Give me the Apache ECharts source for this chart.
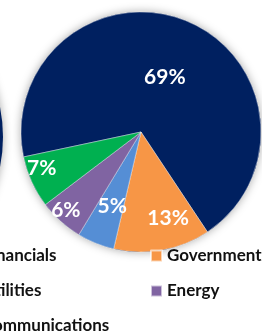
<!DOCTYPE html>
<html>
<head>
<meta charset="utf-8">
<script src="https://cdn.jsdelivr.net/npm/echarts@6/dist/echarts.min.js"></script>
<style>
    html, body { margin: 0; padding: 0; background: #fff; }
    #main { width: 262px; height: 331px; }
</style>
</head>
<body>
<div id="main"></div>
<script>
    var sectors = ['Financials', 'Government', 'Utilities', 'Energy', 'Communications'];
    var shares = [69, 13, 5, 6, 7];
    var colors = ['#002060', '#F79646', '#558ED5', '#8064A2', '#00B050'];
    // the neighbouring chart on the left, only its edge is in view
    var neighbourShares = [100];

    // best-fit label nudges, like the original
    var labelOffsets = [[0, 4], [16, 24], [-5, 16], [-33, 31], [-42, 10]];

    var dom = document.getElementById('main');
    var myChart = echarts.init(dom);

    var total = shares.reduce(function (a, b) { return a + b; }, 0);
    var pieData = sectors.map(function (name, i) {
        return {
            name: name,
            value: shares[i],
            itemStyle: { color: colors[i] },
            label: { offset: labelOffsets[i] }
        };
    });

    var font = 'Lato, "Open Sans", sans-serif';
    var legendText = { fontFamily: font, fontWeight: 'bold', fontSize: 17, color: '#111', lineHeight: 20 };

    var option = {
        animation: false,
        legend: [
            {
                data: [sectors[0], sectors[2], sectors[4]],
                orient: 'vertical',
                left: -35,
                top: 246,
                height: 140,
                padding: 0,
                itemWidth: 11,
                itemHeight: 11,
                itemGap: 15,
                icon: 'rect',
                textStyle: legendText
            },
            {
                data: [sectors[1], sectors[3]],
                orient: 'vertical',
                left: 150,
                top: 246,
                height: 140,
                padding: 0,
                itemWidth: 11,
                itemHeight: 11,
                itemGap: 15,
                icon: 'rect',
                textStyle: legendText
            }
        ],
        series: [
            {
                // soft shadow under the whole pie
                type: 'pie',
                silent: true,
                center: [141, 132],
                radius: 120,
                z: 1,
                label: { show: false },
                labelLine: { show: false },
                itemStyle: { color: '#002060', shadowBlur: 10, shadowColor: 'rgba(0,0,0,0.35)' },
                data: [{ value: total }]
            },
            {
                type: 'pie',
                silent: true,
                center: [-148, 137],
                radius: 151,
                z: 1,
                label: { show: false },
                labelLine: { show: false },
                itemStyle: { color: '#002060', shadowBlur: 10, shadowColor: 'rgba(0,0,0,0.35)' },
                data: neighbourShares.map(function (v) { return { value: v }; })
            },
            {
                type: 'pie',
                center: [141, 132],
                radius: 120,
                z: 2,
                startAngle: 192,
                clockwise: true,
                avoidLabelOverlap: false,
                itemStyle: { borderColor: 'rgba(255,255,255,0.6)', borderWidth: 0.7 },
                label: {
                    show: true,
                    position: 'inside',
                    formatter: '{c}%',
                    color: '#fff',
                    fontFamily: font,
                    fontWeight: 'bold',
                    fontSize: 21
                },
                labelLine: { show: false },
                emphasis: { disabled: true },
                data: pieData
            }
        ]
    };

    myChart.setOption(option, true);
</script>
</body>
</html>
